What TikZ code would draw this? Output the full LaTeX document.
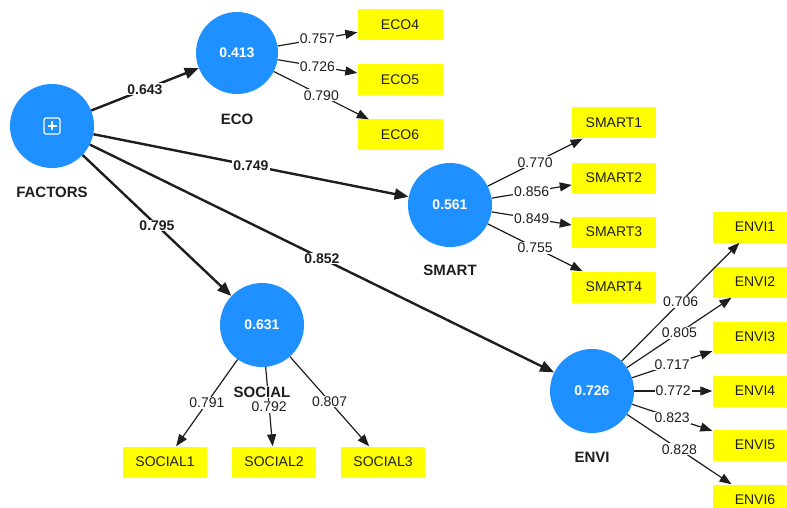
\documentclass[tikz,border=0pt]{standalone}
\usepackage{fontspec}
\setmainfont{Liberation Sans}
\usetikzlibrary{arrows.meta}
\definecolor{lvblue}{RGB}{30,144,255}
\definecolor{indyellow}{RGB}{255,255,0}
\definecolor{txt}{RGB}{30,30,30}
\begin{document}
\begin{tikzpicture}[x=1pt,y=-1pt,
 latent/.style={circle,fill=lvblue,minimum size=84pt,inner sep=0pt,text=white,font=\fontsize{14}{16}\selectfont\bfseries},
 lvname/.style={fill=white,inner sep=1pt,text=txt,font=\fontsize{15}{17}\selectfont\bfseries},
 indbox/.style={rectangle,fill=indyellow,minimum width=85pt,minimum height=31pt,inner sep=0pt,text=txt,font=\fontsize{14}{16}\selectfont},
 pathc/.style={line width=2.4pt,draw=txt,-{Triangle[length=14pt,width=11pt]}},
 loadc/.style={line width=1.2pt,draw=txt,-{Triangle[length=12pt,width=9pt]}},
 coef/.style={fill=white,inner sep=1pt,text=txt,font=\fontsize{14}{16}\selectfont\bfseries},
 loadlab/.style={fill=white,inner sep=1pt,text=txt,font=\fontsize{14}{16}\selectfont},
]
\useasboundingbox (0,0) rectangle (787,508);

% latent variables
\node[latent] (fac) at (52,126) {};
\node[latent,minimum size=82pt] (eco) at (237,53) {0.413};
\node[latent] (smart) at (450,205) {0.561};
\node[latent] (social) at (262,325) {0.631};
\node[latent] (envi) at (592,391) {0.726};

% icon in FACTORS
\begin{scope}[shift={(52,126)}]
\draw[white,line width=1.2pt,rounded corners=2pt] (-8,-8) rectangle (8,8);
\draw[white,line width=1.2pt] (-4.5,0) -- (4.5,0) (0,-4.5) -- (0,4.5);
\end{scope}

% indicators
\node[indbox] (eco4) at (400,25) {ECO4};
\node[indbox] (eco5) at (400,80) {ECO5};
\node[indbox] (eco6) at (400,135) {ECO6};
\node[indbox,minimum width=84pt] (smart1) at (614,123) {SMART1};
\node[indbox,minimum width=84pt] (smart2) at (614,178) {SMART2};
\node[indbox,minimum width=84pt] (smart3) at (614,232) {SMART3};
\node[indbox,minimum width=84pt] (smart4) at (614,287) {SMART4};
\node[indbox,minimum width=84pt] (social1) at (165,462) {SOCIAL1};
\node[indbox,minimum width=84pt] (social2) at (274,462) {SOCIAL2};
\node[indbox,minimum width=84pt] (social3) at (383,462) {SOCIAL3};
\node[indbox] (envi1) at (755,227) {ENVI1};
\node[indbox] (envi2) at (755,282) {ENVI2};
\node[indbox] (envi3) at (755,337) {ENVI3};
\node[indbox] (envi4) at (755,391) {ENVI4};
\node[indbox] (envi5) at (755,445) {ENVI5};
\node[indbox] (envi6) at (755,500) {ENVI6};

% structural paths
\draw[pathc] (fac) -- node[coef]{0.643} (eco);
\draw[pathc] (fac) -- node[coef]{0.749} (smart);
\draw[pathc] (fac) -- node[coef]{0.795} (social);
\draw[pathc] (fac) -- node[coef]{0.852} (envi);

% loadings
\draw[loadc] (eco) -- node[loadlab]{0.757} (eco4);
\draw[loadc] (eco) -- node[loadlab]{0.726} (eco5);
\draw[loadc] (eco) -- node[loadlab]{0.790} (eco6);
\draw[loadc] (smart) -- node[loadlab]{0.770} (smart1);
\draw[loadc] (smart) -- node[loadlab]{0.856} (smart2);
\draw[loadc] (smart) -- node[loadlab]{0.849} (smart3);
\draw[loadc] (smart) -- node[loadlab]{0.755} (smart4);
\draw[loadc] (social) -- node[loadlab]{0.791} (social1);
\draw[loadc] (social) -- node[loadlab]{0.792} (social2);
\draw[loadc] (social) -- node[loadlab]{0.807} (social3);
\draw[loadc] (envi) -- node[loadlab]{0.706} (envi1);
\draw[loadc] (envi) -- node[loadlab]{0.805} (envi2);
\draw[loadc] (envi) -- node[loadlab]{0.717} (envi3);
\draw[loadc] (envi) -- node[loadlab]{0.772} (envi4);
\draw[loadc] (envi) -- node[loadlab]{0.823} (envi5);
\draw[loadc] (envi) -- node[loadlab]{0.828} (envi6);

% latent names
\node[lvname] (facname) at (52,192) {FACTORS};
\node[lvname] (econame) at (237,119) {ECO};
\node[lvname] (smartname) at (450,270) {SMART};
\node[lvname] (socialname) at (262,392) {SOCIAL};
\node[lvname] (enviname) at (592,457) {ENVI};
\end{tikzpicture}
\end{document}
